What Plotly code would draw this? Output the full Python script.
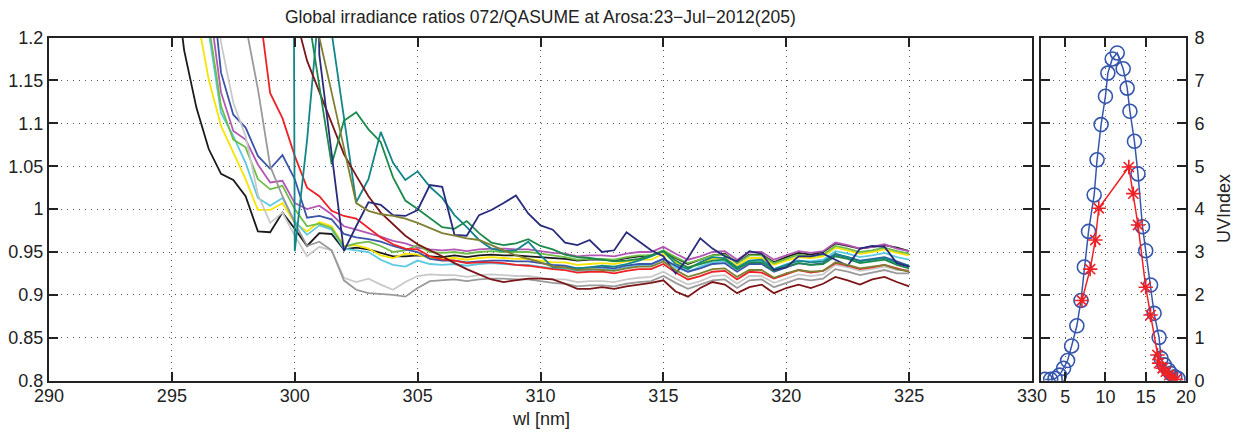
import plotly.graph_objects as go

W, H = 1237, 432

# ---------------- data: irradiance ratios (start wavelength, values at 0.5 nm steps)
black_start = 295.0
black = [1.30, 1.185, 1.118, 1.070, 1.041, 1.034, 1.015, 0.974, 0.973, 0.996, 0.977, 0.957, 0.972, 0.971,
         0.953, 0.955, 0.953, 0.949, 0.945, 0.945, 0.946,
         0.945, 0.944, 0.946, 0.944, 0.946, 0.947, 0.946, 0.946, 0.945, 0.944, 0.943, 0.942, 0.940, 0.941,
         0.941, 0.940, 0.943, 0.945, 0.946, 0.951, 0.943, 0.936, 0.941, 0.946, 0.948, 0.937, 0.947, 0.947,
         0.938, 0.944, 0.949, 0.947, 0.950, 0.960, 0.957, 0.954, 0.956, 0.958, 0.955, 0.951]

yellow_start = 296.0
yellow = [1.229, 1.151, 1.097, 1.066, 1.035, 0.999, 0.999, 1.007, 0.984, 0.974, 0.985, 0.980, 0.957, 0.958,
          0.954, 0.946, 0.943, 0.948, 0.947,
          0.943, 0.942, 0.943, 0.941, 0.943, 0.944, 0.943, 0.942, 0.942, 0.940, 0.938, 0.938, 0.935, 0.936,
          0.937, 0.936, 0.939, 0.941, 0.941, 0.948, 0.938, 0.932, 0.937, 0.942, 0.943, 0.934, 0.943, 0.943,
          0.935, 0.940, 0.944, 0.943, 0.945, 0.955, 0.952, 0.948, 0.950, 0.953, 0.949, 0.946]

lightblue_start = 296.0
lightblue = [1.30, 1.205, 1.112, 1.085, 1.054, 1.013, 1.004, 1.013, 0.986, 0.970, 0.981, 0.976, 0.954, 0.952,
             0.950, 0.941, 0.935, 0.933, 0.940,
             0.936, 0.935, 0.936, 0.934, 0.936, 0.937, 0.936, 0.935, 0.935, 0.933, 0.931, 0.931, 0.928, 0.929,
             0.930, 0.929, 0.932, 0.934, 0.935, 0.942, 0.932, 0.927, 0.933, 0.938, 0.939, 0.930, 0.939, 0.939,
             0.930, 0.936, 0.940, 0.939, 0.941, 0.951, 0.948, 0.944, 0.946, 0.949, 0.944, 0.941]

magenta_start = 296.5
magenta = [1.244, 1.136, 1.091, 1.081, 1.052, 1.031, 1.033, 1.007, 1.000, 1.004, 0.994, 0.980, 0.976,
           0.972, 0.968, 0.963, 0.960,
           0.955, 0.953, 0.952, 0.953, 0.951, 0.953, 0.954, 0.954, 0.953, 0.953, 0.951, 0.949, 0.948, 0.945,
           0.946, 0.946, 0.945, 0.948, 0.950, 0.950, 0.956, 0.948, 0.941, 0.945, 0.950, 0.951, 0.941, 0.950,
           0.950, 0.941, 0.946, 0.951, 0.949, 0.951, 0.961, 0.958, 0.954, 0.956, 0.959, 0.954, 0.951]

lightgreen_start = 296.0
lightgreen = [1.32, 1.215, 1.120, 1.081, 1.072, 1.035, 1.023, 1.027, 1.000, 0.980, 0.983, 0.978, 0.956, 0.960,
              0.962, 0.957, 0.950, 0.952, 0.958,
              0.950, 0.949, 0.950, 0.948, 0.950, 0.951, 0.950, 0.950, 0.950, 0.948, 0.946, 0.944, 0.941, 0.942,
              0.942, 0.941, 0.944, 0.946, 0.946, 0.952, 0.944, 0.937, 0.941, 0.946, 0.947, 0.937, 0.946, 0.946,
              0.937, 0.942, 0.947, 0.945, 0.947, 0.957, 0.954, 0.950, 0.952, 0.955, 0.951, 0.948]

blue_start = 296.5
blue = [1.296, 1.159, 1.110, 1.095, 1.062, 1.047, 1.063, 1.035, 0.990, 0.992, 0.988, 0.971, 0.967,
        0.965, 0.962, 0.957, 0.953, 0.950,
        0.942, 0.940, 0.940, 0.938, 0.939, 0.940, 0.940, 0.939, 0.939, 0.937, 0.935, 0.934, 0.931, 0.932,
        0.932, 0.931, 0.934, 0.936, 0.936, 0.942, 0.934, 0.927, 0.931, 0.936, 0.937, 0.927, 0.936, 0.936,
        0.927, 0.932, 0.937, 0.935, 0.937, 0.947, 0.944, 0.940, 0.942, 0.944, 0.939, 0.934]

lightgray_start = 296.5
lightgray = [1.30, 1.194, 1.124, 1.085, 1.017, 0.984, 0.996, 0.969, 0.945, 0.956, 0.952, 0.920, 0.915,
             0.919, 0.912, 0.906, 0.915, 0.922,
             0.924, 0.923, 0.923, 0.921, 0.923, 0.924, 0.923, 0.922, 0.922, 0.920, 0.918, 0.918, 0.915, 0.916,
             0.916, 0.915, 0.918, 0.920, 0.921, 0.927, 0.919, 0.912, 0.916, 0.922, 0.923, 0.913, 0.922, 0.922,
             0.914, 0.919, 0.924, 0.922, 0.924, 0.935, 0.932, 0.928, 0.930, 0.933, 0.929, 0.929]

gray_start = 298.0
gray = [1.215, 1.140, 1.050, 1.015, 0.984, 0.957, 0.962, 0.952, 0.917, 0.906, 0.902, 0.901, 0.900, 0.898, 0.908,
        0.916, 0.917, 0.918, 0.916, 0.918, 0.919, 0.919, 0.918, 0.918, 0.916, 0.914, 0.913, 0.910, 0.911,
        0.911, 0.910, 0.913, 0.915, 0.916, 0.922, 0.914, 0.907, 0.912, 0.917, 0.918, 0.908, 0.917, 0.918,
        0.909, 0.914, 0.919, 0.917, 0.919, 0.930, 0.927, 0.923, 0.926, 0.929, 0.925, 0.925]

red_start = 298.5
red = [1.247, 1.135, 1.106, 1.062, 1.025, 1.015, 0.998, 0.992, 0.989, 0.978, 0.967, 0.959, 0.954, 0.953,
       0.945, 0.941, 0.940, 0.937, 0.938, 0.938, 0.937, 0.935, 0.934, 0.932, 0.930, 0.929, 0.926, 0.927,
       0.927, 0.925, 0.928, 0.930, 0.930, 0.936, 0.926, 0.918, 0.922, 0.927, 0.928, 0.918, 0.927, 0.926,
       0.919, 0.924, 0.929, 0.926, 0.928, 0.937, 0.934, 0.930, 0.932, 0.935, 0.931, 0.927]

teal_start = 299.5
teal = [5.0, 0.951, 1.080, 1.240, 1.206, 1.106, 1.008, 1.035, 1.090, 1.054, 1.034, 1.044,
        1.026, 1.013, 0.993, 0.979, 0.964, 0.954, 0.951, 0.952, 0.962, 0.946, 0.932, 0.932, 0.931, 0.932,
        0.934, 0.933, 0.936, 0.940, 0.945, 0.951, 0.936, 0.930, 0.938, 0.944, 0.943, 0.932, 0.940, 0.941,
        0.930, 0.935, 0.940, 0.938, 0.939, 0.948, 0.944, 0.939, 0.941, 0.943, 0.937, 0.934]

maroon_start = 299.5
maroon = [1.30, 1.228, 1.173, 1.136, 1.099, 1.064, 1.039, 1.015, 0.996, 0.982, 0.969, 0.959,
          0.952, 0.945, 0.937, 0.930, 0.924, 0.918, 0.915, 0.917, 0.919, 0.919, 0.918, 0.913, 0.907, 0.907,
          0.909, 0.907, 0.910, 0.912, 0.914, 0.917, 0.904, 0.898, 0.908, 0.915, 0.912, 0.902, 0.909, 0.912,
          0.902, 0.908, 0.912, 0.908, 0.913, 0.921, 0.917, 0.912, 0.918, 0.921, 0.915, 0.910]

green_start = 300.5
green = [1.235, 1.144, 1.052, 1.103, 1.113, 1.093, 1.078, 1.037, 1.010, 1.000,
         0.990, 0.979, 0.977, 0.986, 0.972, 0.961, 0.958, 0.960, 0.965, 0.957, 0.953, 0.947, 0.944, 0.943,
         0.941, 0.939, 0.940, 0.942, 0.946, 0.951, 0.940, 0.932, 0.936, 0.940, 0.941, 0.930, 0.938, 0.938,
         0.928, 0.933, 0.937, 0.935, 0.936, 0.945, 0.942, 0.937, 0.939, 0.941, 0.935, 0.931]

navy_start = 300.5
navy = [2.0, 1.180, 1.065, 0.951, 0.980, 1.008, 1.005, 0.993, 0.992, 0.999,
        1.028, 1.026, 0.970, 0.969, 0.993, 0.999, 1.007, 1.016, 0.995, 0.981, 0.976, 0.961, 0.958, 0.964,
        0.950, 0.952, 0.973, 0.962, 0.952, 0.945, 0.925, 0.943, 0.966, 0.954, 0.945, 0.939, 0.951, 0.948,
        0.929, 0.932, 0.945, 0.945, 0.948, 0.941, 0.934, 0.954, 0.957, 0.956, 0.937, 0.933]

olive_start = 300.5
olive = [1.35, 1.200, 1.136, 1.071, 1.007, 0.998, 0.994, 0.992, 0.989, 0.984,
         0.978, 0.972, 0.969, 0.966, 0.964, 0.958, 0.952, 0.946, 0.942, 0.938, 0.933, 0.932, 0.929, 0.930,
         0.929, 0.928, 0.931, 0.933, 0.933, 0.939, 0.929, 0.921, 0.925, 0.930, 0.931, 0.921, 0.929, 0.929,
         0.920, 0.925, 0.929, 0.927, 0.928, 0.938, 0.935, 0.931, 0.933, 0.935, 0.930, 0.927]

STEP = 0.5
series = [
    ("black", black_start, black, "#1a1a1a"),
    ("yellow", yellow_start, yellow, "#f7e400"),
    ("lightblue", lightblue_start, lightblue, "#5cc8e2"),
    ("magenta", magenta_start, magenta, "#b257b4"),
    ("lightgreen", lightgreen_start, lightgreen, "#6dbd46"),
    ("blue", blue_start, blue, "#3b55a8"),
    ("lightgray", lightgray_start, lightgray, "#c9c9c9"),
    ("gray", gray_start, gray, "#9a9a9a"),
    ("red", red_start, red, "#ee2226"),
    ("teal", teal_start, teal, "#128689"),
    ("maroon", maroon_start, maroon, "#7c1517"),
    ("green", green_start, green, "#1a8a4a"),
    ("navy", navy_start, navy, "#282b7c"),
    ("olive", olive_start, olive, "#7f7f33"),
]

# ---------------- data: UV index vs hour
uv_blue_t = [2.5, 3.2, 3.75, 4.3, 4.8, 5.3, 5.8, 6.45, 6.96, 7.38, 7.9, 8.6, 8.96, 9.46, 10.0, 10.3,
             10.84, 11.46, 12.2, 12.7, 13.04, 13.6, 14.04, 14.6, 15.0, 15.6, 16.04, 16.66, 16.9, 17.3,
             17.8, 18.1, 18.6, 19.0]
uv_blue = [0.03, 0.03, 0.05, 0.13, 0.29, 0.47, 0.81, 1.28, 1.87, 2.65, 3.48, 4.33, 5.15, 5.97, 6.63, 7.17,
           7.5, 7.64, 7.27, 6.82, 6.28, 5.58, 4.82, 3.59, 3.03, 2.23, 1.57, 1.01, 0.52, 0.37,
           0.25, 0.17, 0.09, 0.05]
uv_red_t = [7.08, 8.1, 8.75, 9.17, 12.9, 13.46, 14.04, 15.0, 15.6, 16.46, 16.66, 17.1, 17.5, 17.9, 18.3, 18.75]
uv_red = [1.87, 2.6, 3.28, 4.02, 4.98, 4.36, 3.63, 2.18, 1.53, 0.6, 0.41, 0.29, 0.21, 0.13, 0.08, 0.03]

title_text = "Global irradiance ratios 072/QASUME at Arosa:23\u2212Jul\u22122012(205)"
xlabel = "wl [nm]"
ylabel2 = "UVIndex"

# ---------------- figure
FONT = "Liberation Sans, Arial, Helvetica, sans-serif"
fig = go.Figure()
for name, start, vals, col in series:
    xs = [start + STEP * i for i in range(len(vals))]
    fig.add_trace(go.Scatter(x=xs, y=vals, mode="lines", name=name,
                             line=dict(color=col, width=1.8), xaxis="x", yaxis="y"))

fig.add_trace(go.Scatter(x=uv_blue_t, y=uv_blue, mode="lines+markers", xaxis="x2", yaxis="y2",
                         line=dict(color="#3556ac", width=1.5),
                         marker=dict(symbol="circle-open", size=14, color="#3556ac", line=dict(width=1.6))))
fig.add_trace(go.Scatter(x=uv_red_t, y=uv_red, mode="lines+markers", xaxis="x2", yaxis="y2",
                         line=dict(color="#ee2226", width=1.5),
                         marker=dict(symbol="asterisk-open", size=12, color="#ee2226", line=dict(width=1.6))))

x0, x1 = 49, 1032
x2a, x2b = 1041, 1186
ytop, ybot = 37.5, 380.7
ydom = [1 - ybot / H, 1 - ytop / H]

axcommon = dict(showline=True, linecolor="#222222", linewidth=2, mirror="allticks",
                ticks="inside", ticklen=9, tickwidth=1.5, tickcolor="#222222",
                showgrid=True, gridcolor="#555555", gridwidth=1, griddash="1px,5px",
                zeroline=False, automargin=False,
                tickfont=dict(family=FONT, size=18, color="#222222"))

yv = [0.8, 0.85, 0.9, 0.95, 1.0, 1.05, 1.1, 1.15, 1.2]
fig.update_layout(
    width=W, height=H, margin=dict(l=0, r=0, t=0, b=0),
    paper_bgcolor="white", plot_bgcolor="white", showlegend=False,
    xaxis=dict(domain=[x0 / W, x1 / W], range=[290, 330], tickvals=[290, 295, 300, 305, 310, 315, 320, 325, 330],
               anchor="y", ticklabelstandoff=-2, **axcommon),
    yaxis=dict(domain=ydom, range=[0.8, 1.2], tickvals=yv,
               ticktext=["0.8", "0.85", "0.9", "0.95", "1", "1.05", "1.1", "1.15", "1.2"],
               anchor="x", **axcommon),
    xaxis2=dict(domain=[x2a / W, x2b / W], range=[2, 20], tickvals=[5, 10, 15, 20], anchor="y2",
                ticklabelstandoff=-1, **axcommon),
    yaxis2=dict(domain=ydom, range=[0, 8], tickvals=list(range(9)), side="right", anchor="x2",
                ticklabelstandoff=3, **axcommon),
    annotations=[
        dict(text=title_text, x=(x0 + x1) / 2 / W, y=1 - 17 / H, xref="paper", yref="paper",
             showarrow=False, xanchor="center", yanchor="middle",
             font=dict(family=FONT, size=17.5, color="#222222")),
        dict(text=xlabel, x=(x0 + x1) / 2 / W, y=1 - 419 / H, xref="paper", yref="paper",
             showarrow=False, xanchor="center", yanchor="middle",
             font=dict(family=FONT, size=18, color="#222222")),
        dict(text=ylabel2, x=1224 / W, y=1 - 209 / H, xref="paper", yref="paper", textangle=-90,
             showarrow=False, xanchor="center", yanchor="middle",
             font=dict(family=FONT, size=18, color="#222222")),
    ],
)

fig.write_html("out.html")
